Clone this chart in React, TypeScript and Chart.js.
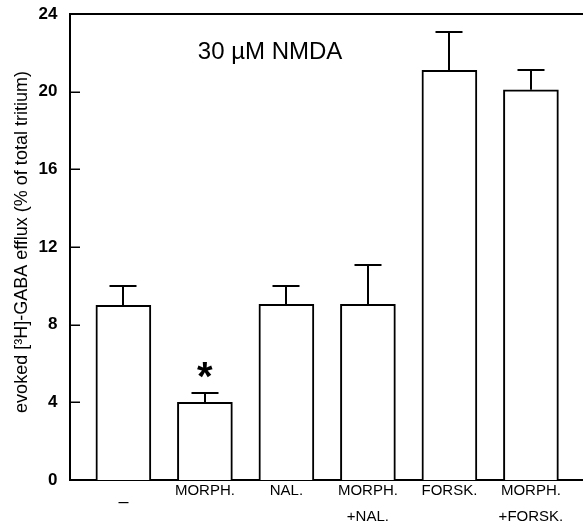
import { useEffect, useRef } from "react";
import { Chart, registerables } from "chart.js";

Chart.register(...registerables);

// ---- data ----
const categoryLines: string[][] = [
  ["–"],
  ["MORPH."],
  ["NAL."],
  ["MORPH.", "+NAL."],
  ["FORSK."],
  ["MORPH.", "+FORSK."],
];
const efflux = [9.0, 4.0, 9.05, 9.05, 21.1, 20.1];
const errorUpper = [10.0, 4.5, 10.0, 11.05, 23.05, 21.1];
const significance = ["", "*", "", "", "", ""];
const yTickValues = [0, 4, 8, 12, 16, 20, 24];
const yAxisTitle = "evoked [³H]-GABA efflux (% of total tritium)";
const panelTitle = "30 µM NMDA";
const panelTitleAt = { x: 1.8, y: 22.0 };
const starLevel = 5.2;

const FONT = "'Liberation Sans', Arial, Helvetica, sans-serif";

const annotationPlugin = {
  id: "annotations",
  afterDatasetsDraw(chart: any) {
    const { ctx, chartArea, scales } = chart;
    const xs = scales.x;
    const ys = scales.y;
    ctx.save();
    ctx.strokeStyle = "#000";
    // top frame line
    ctx.lineWidth = 2;
    ctx.beginPath();
    ctx.moveTo(chartArea.left, chartArea.top);
    ctx.lineTo(chartArea.right, chartArea.top);
    ctx.stroke();
    // inward y tick marks
    ctx.lineWidth = 1.5;
    yTickValues.forEach((v) => {
      const py = Math.round(ys.getPixelForValue(v)) + 0.25;
      ctx.beginPath();
      ctx.moveTo(chartArea.left, py);
      ctx.lineTo(chartArea.left + 10, py);
      ctx.stroke();
    });
    // error bars (upper only)
    ctx.lineWidth = 2;
    efflux.forEach((v, i) => {
      const px = Math.round(xs.getPixelForValue(i));
      const y0 = ys.getPixelForValue(v);
      const y1 = Math.round(ys.getPixelForValue(errorUpper[i]));
      ctx.beginPath();
      ctx.moveTo(px, y0);
      ctx.lineTo(px, y1);
      ctx.moveTo(px - 13.5, y1);
      ctx.lineTo(px + 13.5, y1);
      ctx.stroke();
    });
    // significance marks
    ctx.fillStyle = "#000";
    ctx.textAlign = "center";
    ctx.textBaseline = "middle";
    ctx.font = `bold 40px ${FONT}`;
    significance.forEach((s, i) => {
      if (!s) return;
      ctx.fillText(s, xs.getPixelForValue(i), ys.getPixelForValue(starLevel));
    });
    // panel title
    ctx.font = `24px ${FONT}`;
    ctx.fillText(
      panelTitle,
      xs.getPixelForValue(panelTitleAt.x),
      ys.getPixelForValue(panelTitleAt.y)
    );
    ctx.restore();
  },
};

export default function App() {
  const ref = useRef<HTMLCanvasElement | null>(null);

  useEffect(() => {
    if (!ref.current) return;
    Chart.defaults.font.family = FONT;
    Chart.defaults.color = "#000";
    const chart = new Chart(ref.current, {
      type: "bar",
      data: {
        datasets: [
          {
            data: efflux.map((v, i) => ({ x: i, y: v })),
            backgroundColor: "#fff",
            borderColor: "#000",
            borderWidth: 2,
            barThickness: 55,
          } as any,
        ],
      },
      options: {
        animation: false,
        responsive: false,
        layout: { padding: { top: 14, right: 0, left: 0, bottom: 0 } },
        plugins: {
          legend: { display: false },
          tooltip: { enabled: false },
          title: { display: false },
        },
        scales: {
          x: {
            type: "linear",
            offset: false,
            min: -0.655,
            max: 5.639,
            afterBuildTicks: (scale: any) => {
              scale.ticks = categoryLines.map((_, i) => ({ value: i }));
            },
            afterFit: (scale: any) => {
              scale.height = 47;
              scale.paddingLeft = 0;
              scale.paddingRight = 0;
            },
            grid: { display: false, drawTicks: false, offset: false },
            border: { display: true, color: "#000", width: 2 },
            ticks: {
              padding: -2,
              maxRotation: 0,
              autoSkip: false,
              color: "#000",
              callback: (value: any) => categoryLines[value as number] ?? "",
              font: (c: any) =>
                c.index === 0
                  ? { size: 18, lineHeight: 2.667, family: FONT }
                  : { size: 15, lineHeight: 1.733, family: FONT },
            },
          } as any,
          y: {
            min: 0,
            max: 24,
            afterBuildTicks: (scale: any) => {
              scale.ticks = yTickValues.map((v) => ({ value: v }));
            },
            afterFit: (scale: any) => {
              scale.width = 70;
              scale.paddingTop = 0;
              scale.paddingBottom = 0;
            },
            grid: { display: false, drawTicks: false },
            border: { display: true, color: "#000", width: 2 },
            ticks: {
              padding: 12.5,
              color: "#000",
              font: { size: 17, weight: "bold", family: FONT },
            },
            title: {
              display: true,
              text: "  " + yAxisTitle,
              color: "#000",
              font: { size: 18, family: FONT },
              padding: { top: 11, bottom: 0 },
            },
          } as any,
        },
      },
      plugins: [annotationPlugin],
    });
    return () => chart.destroy();
  }, []);

  return (
    <div style={{ position: "fixed", left: 0, top: 0, width: 583, height: 527, background: "#fff" }}>
      <canvas ref={ref} width={583} height={527} style={{ display: "block" }} />
    </div>
  );
}
